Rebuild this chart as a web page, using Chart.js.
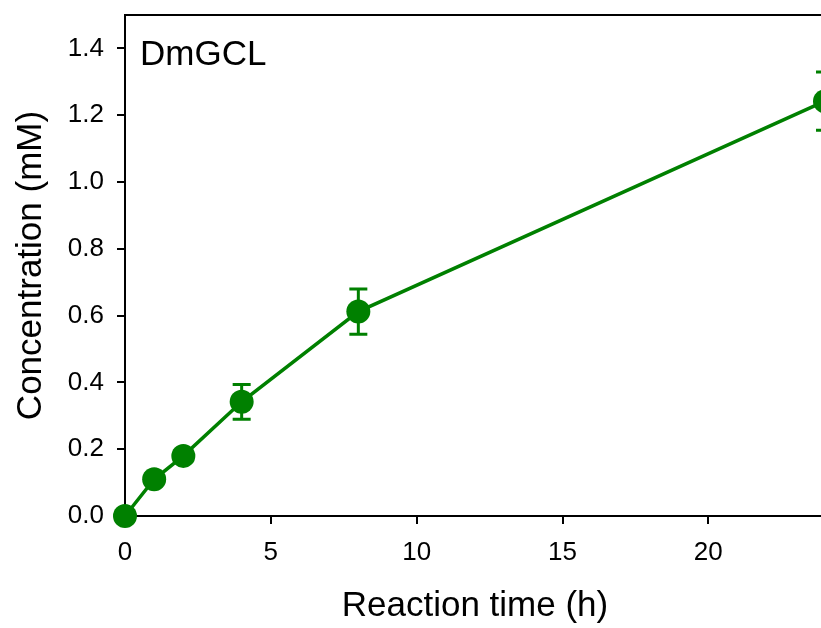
<!DOCTYPE html>
<html>
<head>
<meta charset="utf-8">
<script src="https://cdn.jsdelivr.net/npm/chart.js@4.4.0/dist/chart.umd.min.js"></script>
<style>
  html, body { margin: 0; padding: 0; background: #fff; overflow: hidden; }
  #wrap { width: 821px; height: 628px; overflow: hidden; }
</style>
</head>
<body>
<div id="wrap"><canvas id="myChart" width="837" height="628"></canvas></div>
<script>
// data
const times = [0, 1, 2, 4, 8, 24];
const conc = [0.0, 0.11, 0.18, 0.342, 0.612, 1.242];
const concErr = [0, 0, 0, 0.052, 0.068, 0.087];
const xTicks = [0, 5, 10, 15, 20];
const yTicks = [0, 0.2, 0.4, 0.6, 0.8, 1.0, 1.2, 1.4];
const panelLabel = 'DmGCL';

const green = '#008000';
const fontFamily = '"Liberation Sans", Arial, sans-serif';

// error bars, drawn under the markers
const errorBars = {
  id: 'errorBars',
  beforeDatasetsDraw(chart) {
    const ctx = chart.ctx;
    const xs = chart.scales.x, ys = chart.scales.y;
    ctx.save();
    ctx.strokeStyle = green;
    ctx.lineWidth = 3;
    times.forEach((t, i) => {
      if (!concErr[i]) return;
      const px = xs.getPixelForValue(t);
      const top = ys.getPixelForValue(conc[i] + concErr[i]);
      const bot = ys.getPixelForValue(conc[i] - concErr[i]);
      ctx.beginPath();
      ctx.moveTo(px, top); ctx.lineTo(px, bot);
      ctx.moveTo(px - 9, top); ctx.lineTo(px + 9, top);
      ctx.moveTo(px - 9, bot); ctx.lineTo(px + 9, bot);
      ctx.stroke();
    });
    ctx.restore();
  }
};

// top frame line and the panel label
const frame = {
  id: 'frame',
  afterDraw(chart) {
    const ctx = chart.ctx;
    const a = chart.chartArea;
    ctx.save();
    ctx.strokeStyle = '#000';
    ctx.lineWidth = 2;
    ctx.beginPath();
    ctx.moveTo(a.left - 1, a.top);
    ctx.lineTo(a.right + 10, a.top);
    ctx.stroke();
    ctx.fillStyle = '#000';
    ctx.font = '35px ' + fontFamily;
    ctx.textBaseline = 'alphabetic';
    ctx.fillText(panelLabel, a.left + 15, a.top + 50);
    ctx.restore();
  }
};

var ctx = document.getElementById('myChart').getContext('2d');
var myChart = new Chart(ctx, {
  type: 'scatter',
  data: {
    datasets: [{
      data: times.map((t, i) => ({ x: t, y: conc[i] })),
      showLine: true,
      borderColor: green,
      borderWidth: 3.5,
      backgroundColor: green,
      pointBackgroundColor: green,
      pointBorderColor: green,
      pointRadius: 12,
      pointBorderWidth: 0,
      clip: false,
    }]
  },
  options: {
    responsive: false,
    animation: false,
    layout: { padding: { top: 15, right: 5, left: 0, bottom: 0 } },
    plugins: { legend: { display: false }, tooltip: { enabled: false } },
    scales: {
      x: {
        type: 'linear',
        min: 0,
        max: 24,
        afterBuildTicks: s => { s.ticks = xTicks.map(v => ({ value: v })); },
        afterFit: s => { s.height = 112; },
        grid: { drawOnChartArea: false, color: '#000', lineWidth: 2, tickLength: 8 },
        border: { color: '#000', width: 2 },
        ticks: {
          color: '#000',
          padding: 13,
          maxRotation: 0,
          font: { family: fontFamily, size: 26 },
          callback: v => String(v)
        },
        title: {
          display: true,
          text: 'Reaction time (h)',
          color: '#000',
          font: { family: fontFamily, size: 35 },
          padding: { top: 0, bottom: 1 }
        }
      },
      y: {
        type: 'linear',
        min: 0,
        max: 1.5,
        afterBuildTicks: s => { s.ticks = yTicks.map(v => ({ value: v })); },
        afterFit: s => { s.width = 125; s.paddingTop = 0; s.paddingBottom = 0; },
        grid: { drawOnChartArea: false, color: '#000', lineWidth: 2, tickLength: 8 },
        border: { color: '#000', width: 2 },
        ticks: {
          color: '#000',
          padding: 13,
          font: { family: fontFamily, size: 26 },
          callback: v => Number(v).toFixed(1)
        },
        title: {
          display: true,
          text: 'Concentration (mM)',
          color: '#000',
          font: { family: fontFamily, size: 35 },
          padding: { top: 10, bottom: 0 }
        }
      }
    }
  },
  plugins: [errorBars, frame]
});
</script>
</body>
</html>
